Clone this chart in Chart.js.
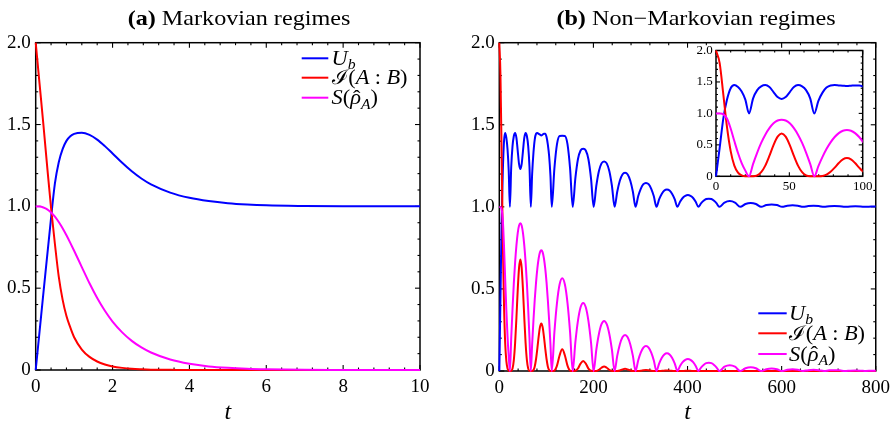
<!DOCTYPE html>
<html><head><meta charset="utf-8">
<script src="https://cdn.jsdelivr.net/npm/chart.js@4.4.1/dist/chart.umd.min.js"></script>
<style>
html,body{margin:0;padding:0;background:#fff;width:896px;height:424px;overflow:hidden}
canvas{position:absolute;left:0;top:0}
</style></head>
<body>
<canvas id="cA" width="896" height="424"></canvas>
<canvas id="cB" width="896" height="424"></canvas>
<canvas id="cI" width="896" height="424"></canvas>
<script>
const SERIF = '"Liberation Serif", "Times New Roman", "DejaVu Serif", serif';
const COLORS = { U: '#0000ff', I: '#ff0000', S: '#ff00ff' };
const yTickLabels = ['0', '0.5', '1.0', '1.5', '2.0'];

// ---------- Panel (a): Markovian ----------
const tA = [0, 0.1, 0.2, 0.3, 0.4, 0.5, 0.6, 0.7, 0.8, 0.9,
            1.0, 1.2, 1.4, 1.6, 1.8, 2.0, 2.25, 2.5, 2.75, 3.0,
            3.5, 4.0, 4.5, 5.0, 5.5, 6.0, 7.0, 8.0, 9.0, 10.0];
const uA = [0, 0.234, 0.47, 0.70, 0.93, 1.14, 1.27, 1.35, 1.40, 1.428,
            1.443, 1.45, 1.437, 1.408, 1.368, 1.323, 1.266, 1.214, 1.17, 1.134,
            1.084, 1.052, 1.032, 1.019, 1.011, 1.006, 1.002, 1.0, 1.0, 1.0];
const iA = [2.0, 1.75, 1.50, 1.24, 0.99, 0.77, 0.57, 0.43, 0.33, 0.26,
            0.20, 0.125, 0.08, 0.052, 0.034, 0.022, 0.013, 0.007, 0.004, 0.002,
            0.001, 0, 0, 0, 0, 0, 0, 0, 0, 0];
const sA = [1.0, 0.999, 0.993, 0.982, 0.963, 0.937, 0.904, 0.866, 0.823, 0.777,
            0.729, 0.629, 0.53, 0.44, 0.362, 0.296, 0.23, 0.178, 0.138, 0.107,
            0.064, 0.038, 0.022, 0.013, 0.0075, 0.0045, 0.0015, 0.0005, 0, 0];

// ---------- Panel (b): Non-Markovian ----------
const tB = [0, 2.5, 5, 7.5, 10, 12.5, 15, 17.5, 20, 22.5,
  25.3, 28.1, 30.8, 33.6, 36.4, 39.2, 42.0, 44.75, 47.5, 50.3, 53.1, 55.9, 58.7, 61.4, 64.2,
  67.0, 69.8, 72.6, 75.3, 78.1, 80.9, 83.7, 86.5, 89.25, 92.0, 94.8, 97.6, 100.4, 103.1, 105.9, 108.7,
  111.5, 117.1, 122.6, 128.2, 133.75, 139.3, 144.9, 150.4,
  156.0, 161.6, 167.1, 172.7, 178.25, 183.8, 189.4, 194.9,
  200.5, 206.1, 211.6, 217.2, 222.75, 228.3, 233.9, 239.4,
  245.0, 250.6, 256.1, 261.7, 267.25, 272.8, 278.4, 283.9,
  289.5, 295.1, 300.6, 306.2, 311.75, 317.3, 322.9, 328.4,
  334.0, 339.6, 345.1, 350.7, 356.25, 361.8, 367.4, 372.9,
  378.5, 384.1, 389.6, 395.2, 400.75, 406.3, 411.9, 417.4,
  423.0, 428.6, 434.1, 439.7, 445.25, 450.8, 456.4, 461.9,
  467.5, 478.6, 489.75, 500.9,
  512.0, 523.1, 534.25, 545.4,
  556.5, 567.6, 578.75, 589.9,
  601.0, 612.1, 623.25, 634.4,
  645.5, 656.6, 667.75, 678.9,
  690.0, 701.1, 712.25, 723.4,
  734.5, 745.6, 756.75, 767.9,
  779.0, 790.1, 800];
const uB = [0, 0.45, 0.92, 1.22, 1.40, 1.45, 1.42, 1.35, 1.22, 1.0,
  1.24, 1.37, 1.43, 1.45, 1.42, 1.34, 1.26, 1.23, 1.26, 1.34, 1.42, 1.45, 1.43, 1.37, 1.24,
  1.0, 1.2, 1.33, 1.41, 1.445, 1.45, 1.445, 1.44, 1.435, 1.44, 1.445, 1.445, 1.425, 1.38, 1.31, 1.19,
  1, 1.234, 1.382, 1.432, 1.433, 1.432, 1.382, 1.234,
  1, 1.173, 1.29, 1.343, 1.354, 1.343, 1.29, 1.173,
  1, 1.127, 1.217, 1.265, 1.277, 1.265, 1.217, 1.127,
  1, 1.092, 1.159, 1.197, 1.207, 1.197, 1.159, 1.092,
  1, 1.064, 1.11, 1.138, 1.146, 1.138, 1.11, 1.064,
  1, 1.045, 1.078, 1.099, 1.105, 1.099, 1.078, 1.045,
  1, 1.031, 1.054, 1.067, 1.072, 1.067, 1.054, 1.031,
  1, 1.021, 1.037, 1.048, 1.05, 1.048, 1.037, 1.021,
  1, 1.026, 1.035, 1.026,
  1, 1.017, 1.023, 1.017,
  1, 1.011, 1.015, 1.011,
  1, 1.007, 1.01, 1.007,
  1, 1.005, 1.007, 1.005,
  1, 1.004, 1.005, 1.004,
  1, 1.002, 1.003, 1.002,
  1, 1.0015, 1.002];
const iB = [2.0, 1.8, 1.3, 0.78, 0.4, 0.17, 0.06, 0.015, 0.002, 0,
  0.001, 0.015, 0.065, 0.17, 0.324, 0.496, 0.63, 0.68, 0.63, 0.496, 0.324, 0.17, 0.065, 0.015, 0.001,
  0, 0.0004, 0.006, 0.028, 0.073, 0.138, 0.211, 0.269, 0.29, 0.269, 0.211, 0.138, 0.073, 0.028, 0.006, 0.0004,
  0, 0.003, 0.033, 0.096, 0.132, 0.096, 0.033, 0.003,
  0, 0.001, 0.015, 0.045, 0.061, 0.045, 0.015, 0.001,
  0, 0.0006, 0.007, 0.02, 0.028, 0.02, 0.007, 0.0006,
  0, 0, 0.003, 0.0095, 0.013, 0.0095, 0.003, 0,
  0, 0, 0.0015, 0.0044, 0.006, 0.0044, 0.0015, 0,
  0, 0, 0.0008, 0.0022, 0.003, 0.0022, 0.0008, 0,
  0, 0, 0.0004, 0.0011, 0.0015, 0.0011, 0.0004, 0,
  0, 0, 0.0002, 0.0005, 0.0007, 0.0005, 0.0002, 0,
  0, 0, 0, 0,
  0, 0, 0, 0,
  0, 0, 0, 0,
  0, 0, 0, 0,
  0, 0, 0, 0,
  0, 0, 0, 0,
  0, 0, 0, 0,
  0, 0, 0];
const sB = [1.0, 0.998, 0.985, 0.92, 0.76, 0.56, 0.37, 0.21, 0.09, 0,
  0.198, 0.378, 0.531, 0.662, 0.765, 0.842, 0.887, 0.90, 0.887, 0.842, 0.765, 0.662, 0.531, 0.378, 0.198,
  0, 0.162, 0.309, 0.434, 0.54, 0.625, 0.687, 0.724, 0.735, 0.724, 0.687, 0.625, 0.54, 0.434, 0.309, 0.162,
  0, 0.237, 0.415, 0.528, 0.565, 0.528, 0.415, 0.237,
  0, 0.174, 0.305, 0.388, 0.415, 0.388, 0.305, 0.174,
  0, 0.128, 0.224, 0.285, 0.305, 0.285, 0.224, 0.128,
  0, 0.092, 0.162, 0.206, 0.22, 0.206, 0.162, 0.092,
  0, 0.064, 0.112, 0.142, 0.152, 0.142, 0.112, 0.064,
  0, 0.045, 0.079, 0.101, 0.108, 0.101, 0.079, 0.045,
  0, 0.031, 0.054, 0.068, 0.073, 0.068, 0.054, 0.031,
  0, 0.021, 0.037, 0.048, 0.051, 0.048, 0.037, 0.021,
  0, 0.026, 0.035, 0.026,
  0, 0.017, 0.023, 0.017,
  0, 0.011, 0.015, 0.011,
  0, 0.007, 0.01, 0.007,
  0, 0.005, 0.007, 0.005,
  0, 0.004, 0.005, 0.004,
  0, 0.002, 0.003, 0.002,
  0, 0.0015, 0.002];

// ---------- legend entries (math text pieces: text, style, modifier, side padding in em) ----------
const legendItems = [
  { color: COLORS.U, parts: [['U', 'i'], ['b', 'i', 'sub']] },
  { color: COLORS.I, parts: [['\u2110', 'r'], ['(', 'r'], ['A', 'i'], [':', 'r', null, 0.24], ['B', 'i'], [')', 'r']] },
  { color: COLORS.S, parts: [['S', 'i'], ['(', 'r'], ['\u03C1', 'i', 'hat'], ['A', 'i', 'sub'], [')', 'r']] }
];

function drawMath(ctx, x, y, parts, size, sx) {
  ctx.save();
  ctx.translate(x, y);
  ctx.scale(sx, 1);
  ctx.textAlign = 'left';
  ctx.textBaseline = 'alphabetic';
  ctx.fillStyle = '#000';
  let cx = 0;
  for (const p of parts) {
    const [txt, st, mod, padEm] = p;
    const pad = (padEm || 0) * size;
    cx += pad;
    const fs = mod === 'sub' ? size * 0.7 : size;
    ctx.font = (st === 'i' ? 'italic ' : '') + fs + 'px ' + SERIF;
    const dy = mod === 'sub' ? size * 0.22 : 0;
    ctx.fillText(txt, cx, dy);
    const w = ctx.measureText(txt).width;
    if (mod === 'hat') {
      ctx.font = fs + 'px ' + SERIF;
      ctx.textAlign = 'center';
      ctx.fillText('\u02C6', cx + w * 0.6, size * 0.02);
      ctx.textAlign = 'left';
    }
    cx += w + pad;
  }
  ctx.restore();
}

function drawTitle(ctx, cx, y, bold, rest, size, sx) {
  ctx.save();
  ctx.fillStyle = '#000';
  ctx.textBaseline = 'alphabetic';
  ctx.font = 'bold ' + size + 'px ' + SERIF;
  const wb = ctx.measureText(bold).width;
  ctx.font = size + 'px ' + SERIF;
  const wr = ctx.measureText(rest).width;
  const total = (wb + wr) * sx;
  ctx.translate(cx - total / 2, y);
  ctx.scale(sx, 1);
  ctx.font = 'bold ' + size + 'px ' + SERIF;
  ctx.fillText(bold, 0, 0);
  ctx.font = size + 'px ' + SERIF;
  ctx.fillText(rest, wb, 0);
  ctx.restore();
}

const framePlugin = {
  id: 'frame',
  beforeDraw(chart) {
    const { ctx, chartArea: a } = chart;
    ctx.save();
    ctx.fillStyle = '#fff';
    ctx.fillRect(a.left, a.top, a.right - a.left, a.bottom - a.top);
    ctx.restore();
  },
  beforeDatasetsDraw(chart, args, o) {
    const { ctx, chartArea: a, scales } = chart;
    const x = scales.x, y = scales.y;
    ctx.save();
    ctx.strokeStyle = '#000';
    ctx.lineWidth = 1.1;
    const seg = (x1, y1, x2, y2) => { ctx.beginPath(); ctx.moveTo(x1, y1); ctx.lineTo(x2, y2); ctx.stroke(); };
    const isMajor = (v, M) => Math.abs(v / M - Math.round(v / M)) < 1e-6;
    for (let k = 0; ; k++) {
      const v = x.min + k * o.xMinor;
      if (v > x.max + 1e-9) break;
      const len = isMajor(v, o.xMajor) ? o.maj : o.min;
      const px = x.getPixelForValue(v);
      seg(px, a.bottom, px, a.bottom - len);
      seg(px, a.top, px, a.top + len);
    }
    for (let k = 0; ; k++) {
      const v = y.min + k * o.yMinor;
      if (v > y.max + 1e-9) break;
      const len = isMajor(v, o.yMajor) ? o.maj : o.min;
      const py = y.getPixelForValue(v);
      seg(a.left, py, a.left + len, py);
      seg(a.right, py, a.right - len, py);
    }
    ctx.lineWidth = o.lw;
    ctx.strokeRect(a.left, a.top, a.right - a.left, a.bottom - a.top);
    ctx.restore();
  }
};

const decoPlugin = {
  id: 'deco',
  afterDraw(chart, args, o) {
    const { ctx, chartArea: a } = chart;
    if (o.title) drawTitle(ctx, o.title.cx, o.title.y, o.title.bold, o.title.rest, 21, 1.15);
    if (o.xlabel) {
      ctx.save();
      ctx.fillStyle = '#000';
      ctx.font = 'italic 24px ' + SERIF;
      ctx.textAlign = 'center';
      ctx.textBaseline = 'alphabetic';
      ctx.fillText('t', (a.left + a.right) / 2, o.xlabel.y);
      ctx.restore();
    }
    if (o.legend) {
      const L = o.legend;
      legendItems.forEach((it, i) => {
        const yy = L.ys[i];
        ctx.save();
        ctx.strokeStyle = it.color;
        ctx.lineWidth = 2;
        ctx.beginPath();
        ctx.moveTo(L.x1, yy);
        ctx.lineTo(L.x2, yy);
        ctx.stroke();
        ctx.restore();
        drawMath(ctx, L.tx, yy + 6.5, it.parts, 20, 1.12);
      });
    }
  }
};

const pts = (t, v) => t.map((x, i) => ({ x, y: v[i] }));
function ds(t, v, color, order, clip) {
  return { data: pts(t, v), borderColor: color, borderWidth: 2, pointRadius: 0, fill: false,
           cubicInterpolationMode: 'monotone', order, clip };
}

function makeChart(id, t, u, iv, s, c) {
  return new Chart(document.getElementById(id), {
    type: 'line',
    data: { datasets: [
      ds(t, u, COLORS.U, 3, c.clip),
      ds(t, iv, COLORS.I, 2, c.clip),
      ds(t, s, COLORS.S, 1, c.clip)
    ] },
    options: {
      responsive: false, animation: false, devicePixelRatio: 1,
      layout: { padding: c.pad },
      plugins: { legend: { display: false }, tooltip: { enabled: false }, title: { display: false },
                 frame: c.frame, deco: c.deco },
      scales: {
        x: { type: 'linear', min: c.xmin, max: c.xmax,
             afterFit: sc => { sc.height = c.xh; },
             grid: { display: false, drawTicks: false }, border: { display: false },
             ticks: { stepSize: c.xstep, autoSkip: false, maxRotation: 0, color: '#000', padding: c.xpad,
                      font: { family: SERIF, size: c.fs } } },
        y: { type: 'linear', min: 0, max: 2,
             afterFit: sc => { sc.width = c.yw; },
             grid: { display: false, drawTicks: false }, border: { display: false },
             ticks: { stepSize: 0.5, autoSkip: false, color: '#000', padding: c.ypad,
                      font: { family: SERIF, size: c.fs },
                      callback: v => yTickLabels[Math.round(v * 2)] } }
      }
    },
    plugins: [framePlugin, decoPlugin]
  });
}

makeChart('cA', tA, uA, iA, sA, {
  pad: { left: 0, top: 42.7, right: 476, bottom: 0 }, xh: 54, yw: 35.7,
  xmin: 0, xmax: 10, xstep: 2, xpad: 6, ypad: 5, fs: 19, clip: 3,
  frame: { xMajor: 2, xMinor: 0.4, yMajor: 0.5, yMinor: 0.1, maj: 5, min: 2.5, lw: 1.5 },
  deco: { title: { cx: 239, y: 25, bold: '(a)', rest: ' Markovian regimes' }, xlabel: { y: 419 },
          legend: { x1: 301.7, x2: 328.3, tx: 331.5, ys: [58.3, 77.7, 97.7] } }
});

makeChart('cB', tB, uB, iB, sB, {
  pad: { left: 450, top: 42.7, right: 19.3, bottom: 0 }, xh: 53, yw: 49.3,
  xmin: 0, xmax: 800, xstep: 200, xpad: 6, ypad: 4.5, fs: 19, clip: 3,
  frame: { xMajor: 200, xMinor: 40, yMajor: 0.5, yMinor: 0.1, maj: 5, min: 2.5, lw: 1.5 },
  deco: { title: { cx: 696, y: 25, bold: '(b)', rest: ' Non\u2212Markovian regimes' }, xlabel: { y: 419 },
          legend: { x1: 758.3, x2: 786.7, tx: 789, ys: [313.3, 333.3, 354] } }
});

makeChart('cI', tB, uB, iB, sB, {
  pad: { left: 680, top: 50.5, right: 33.3, bottom: 224 }, xh: 23.7, yw: 36,
  xmin: 0, xmax: 100, xstep: 50, xpad: 2, ypad: 3.3, fs: 13,
  clip: { left: 2, top: 2, right: 0, bottom: 2 },
  frame: { xMajor: 50, xMinor: 10, yMajor: 0.5, yMinor: 0.1, maj: 4, min: 2, lw: 1.5 },
  deco: {}
});
</script>
</body></html>
